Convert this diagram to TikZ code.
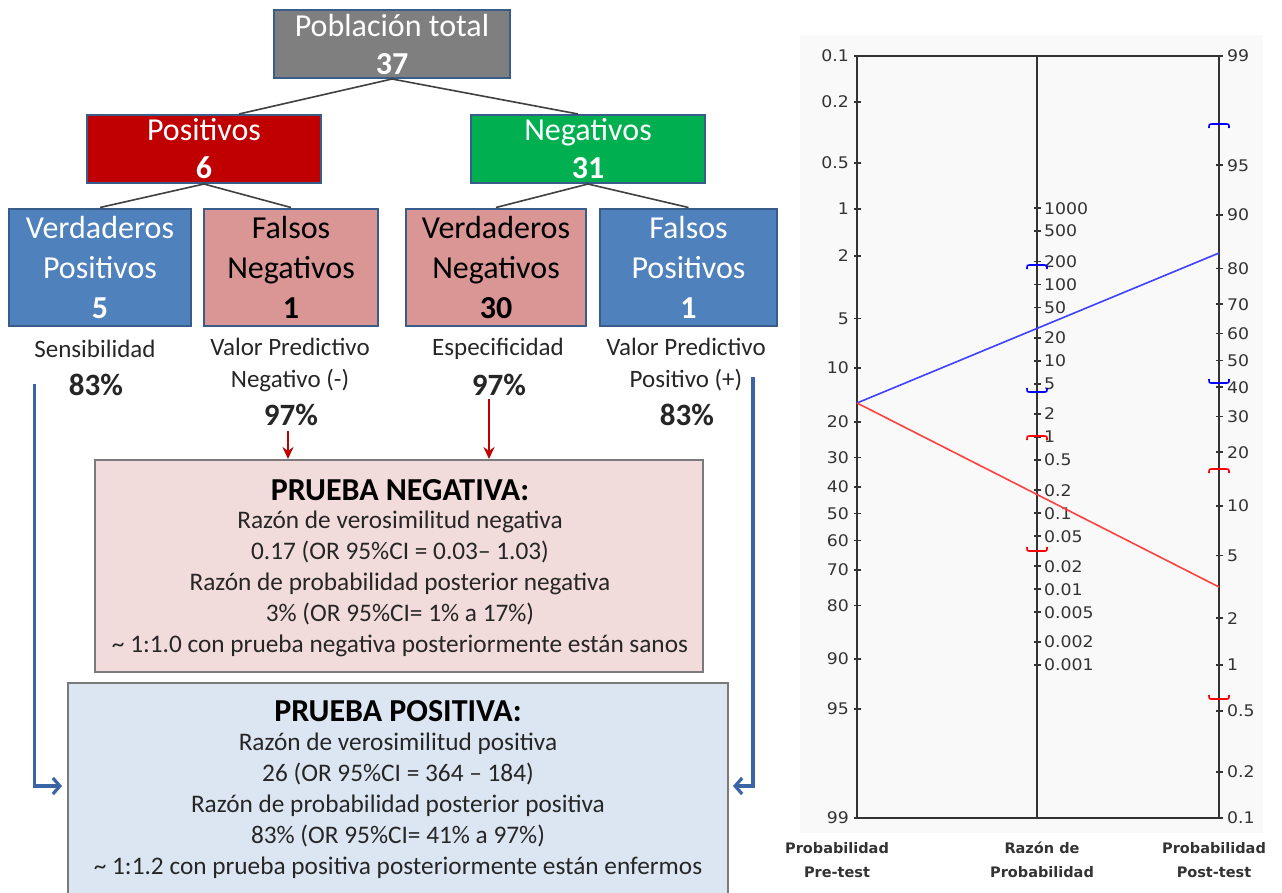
\documentclass[tikz,border=0pt]{standalone}
\usepackage{fontspec}
\setmainfont{Carlito}
\newfontfamily\nomofont[FakeStretch=1.08]{DejaVu Sans}
\newfontfamily\nomobold{DejaVu Sans}
\usetikzlibrary{arrows.meta,calc}
\definecolor{boxgray}{HTML}{7F7F7F}
\definecolor{boxblue}{HTML}{385D8A}
\definecolor{posred}{HTML}{C00000}
\definecolor{neggreen}{HTML}{00B050}
\definecolor{leafblue}{HTML}{4F81BD}
\definecolor{leafpink}{HTML}{D99694}
\definecolor{negfill}{HTML}{F2DCDB}
\definecolor{posfill}{HTML}{DCE6F2}
\definecolor{resborder}{HTML}{7A7A7A}
\definecolor{arrred}{HTML}{C00000}
\definecolor{arrblue}{HTML}{3A64A6}
\definecolor{treegray}{HTML}{404040}
\definecolor{labgray}{HTML}{262626}
\definecolor{axgray}{HTML}{333333}
\definecolor{panel}{HTML}{F8F9F8}
\definecolor{lineblue}{HTML}{4040FF}
\definecolor{linered}{HTML}{FF4040}
\newcommand\ciup[3]{\draw[draw=#3, line width=1.6pt] (#1-10,#2+4) .. controls (#1-10,#2) .. (#1-6,#2) -- (#1+6,#2) .. controls (#1+10,#2) .. (#1+10,#2+4);}
\newcommand\cidown[3]{\draw[draw=#3, line width=1.6pt] (#1-10,#2-4) .. controls (#1-10,#2) .. (#1-6,#2) -- (#1+6,#2) .. controls (#1+10,#2) .. (#1+10,#2-4);}
\begin{document}
\begin{tikzpicture}[x=1pt,y=-1pt,
  treeline/.style={draw=treegray, line width=1.6pt},
  topbox/.style={draw=boxblue, line width=2pt, inner sep=0pt, align=center, text=white, font=\fontsize{32}{38}\selectfont, minimum height=68pt},
  leafbox/.style={draw=boxblue, line width=2pt, inner sep=0pt, align=center, font=\fontsize{32}{40}\selectfont, minimum height=117pt},
  lab/.style={inner sep=0pt, align=center, text=labgray, font=\fontsize{25}{32}\selectfont},
  pct/.style={inner sep=0pt, text=labgray, font=\fontsize{31}{32}\selectfont\bfseries},
  resbox/.style={draw=resborder, line width=2pt, inner sep=0pt},
  restitle/.style={inner sep=0pt, text=black, font=\fontsize{32}{32}\selectfont\bfseries},
  resbody/.style={inner sep=0pt, align=center, text=labgray, font=\fontsize{25.3}{31}\selectfont},
  redarr/.style={draw=arrred, line width=2.2pt, -{Stealth[length=12pt,width=11pt,inset=4pt]}},
  bluearr/.style={draw=arrblue, line width=3.2pt, -{Straight Barb[length=7pt,width=16pt]}},
  axisline/.style={draw=axgray, line width=2.4pt},
  tickmark/.style={draw=axgray, line width=1.8pt},
  ticklab/.style={inner sep=0pt, text=axgray, font=\nomofont\fontsize{16}{16}\selectfont},
  axlab/.style={inner sep=0pt, align=center, text=axgray, font=\nomobold\bfseries\fontsize{14.5}{23.5}\selectfont},
]
\fill[white] (0,0) rectangle (1282,892);
\useasboundingbox (0,0) rectangle (1282,892);

% ---------------- tree ----------------
\node[topbox, fill=boxgray, minimum width=236pt] (tot) at (392,44) {Población total\\\textbf{37}};
\node[topbox, fill=posred, minimum width=234pt] (pos) at (204,149) {Positivos\\\textbf{6}};
\node[topbox, fill=neggreen, minimum width=234pt] (neg) at (588,149) {Negativos\\\textbf{31}};

\node[leafbox, fill=leafblue, text=white, minimum width=182pt] (vp) at (100,267) {Verdaderos\\Positivos\\\textbf{5}};
\node[leafbox, fill=leafpink, text=black, minimum width=174pt] (fn) at (291,267) {Falsos\\Negativos\\\textbf{1}};
\node[leafbox, fill=leafpink, text=black, minimum width=180pt] (vn) at (496,267) {Verdaderos\\Negativos\\\textbf{30}};
\node[leafbox, fill=leafblue, text=white, minimum width=177pt] (fp) at (688.5,267) {Falsos\\Positivos\\\textbf{1}};

\draw[treeline] (tot.south) -- ([xshift=35pt]pos.north);
\draw[treeline] (tot.south) -- ([xshift=-10pt]neg.north);
\draw[treeline] (pos.south) -- (vp.north);
\draw[treeline] (pos.south) -- (fn.north);
\draw[treeline] (neg.south) -- (vn.north);
\draw[treeline] (neg.south) -- (fp.north);

% labels
\node[lab] (sens) at (95,349) {Sensibilidad};
\node[pct] (senspct) at (96,385) {83\%};
\node[lab] (vpn) at (290,365) {Valor Predictivo\\Negativo (-)};
\node[pct] (vpnpct) at (291,415) {97\%};
\node[lab] (esp) at (498,349) {Especificidad};
\node[pct] (esppct) at (499,385) {97\%};
\node[lab] (vpp) at (686,365) {Valor Predictivo\\Positivo (+)};
\node[pct] (vpppct) at (687,415) {83\%};

% result boxes
\node[resbox, fill=negfill, minimum width=608pt, minimum height=212pt] (negbox) at (399,566) {};
\node[restitle] (negt) at (400,490) {PRUEBA NEGATIVA:};
\node[resbody] (negb) at (400,584) {Razón de verosimilitud negativa\\0.17 (OR 95\%CI = 0.03– 1.03)\\Razón de probabilidad posterior negativa\\3\% (OR 95\%CI= 1\% a 17\%)\\\textasciitilde\ 1:1.0 con prueba negativa posteriormente están sanos};

\node[resbox, fill=posfill, minimum width=660pt, minimum height=217pt] (posbox) at (398,791.5) {};
\node[restitle] (post) at (398,711) {PRUEBA POSITIVA:};
\node[resbody] (posb) at (398,806) {Razón de verosimilitud positiva\\26 (OR 95\%CI = 364 – 184)\\Razón de probabilidad posterior positiva\\83\% (OR 95\%CI= 41\% a 97\%)\\\textasciitilde\ 1:1.2 con prueba positiva posteriormente están enfermos};

% arrows
\coordinate (ra1) at (288,431);
\coordinate (ra2) at (489,399);
\draw[redarr] (ra1) -- (ra1 |- negbox.north);
\draw[redarr] (ra2) -- (ra2 |- negbox.north);
\coordinate (bl1) at (34.5,384);
\coordinate (bl1e) at (62,786);
\coordinate (bl2) at (753,377);
\coordinate (bl2e) at (733,786);
\draw[bluearr] (bl1) |- (bl1e);
\draw[bluearr] (bl2) |- (bl2e);

% ---------------- nomogram ----------------
\fill[panel] (800,35) rectangle (1263,833);
\coordinate (tl) at (857,56);
\coordinate (tm) at (1037,56);
\coordinate (tr) at (1219,56);
\coordinate (bl) at (857,818);
\coordinate (bm) at (1037,818);
\coordinate (br) at (1219,818);
\draw[axisline] (tl) -- (tr) -- (br) -- (bl) -- cycle;
\draw[axisline] (tm) -- (bm);

\foreach \v [count=\i] in {0.1,0.2,0.5,1,2,5,10,20,30,40,50,60,70,80,90,95,99} {
  \pgfmathsetmacro\yy{56+66.25*(ln(\v)-ln(100-\v)+6.90675)}
  \draw[tickmark] (854,\yy) -- (861,\yy);
  \node[ticklab, anchor=east] (pl\i) at (849,\yy) {\v};
}
\foreach \v [count=\i] in {99,95,90,80,70,60,50,40,30,20,10,5,2,1,0.5,0.2,0.1} {
  \pgfmathsetmacro\yy{56+66.25*(4.59512-ln(\v)+ln(100-\v))}
  \draw[tickmark] (1216,\yy) -- (1223,\yy);
  \node[ticklab, anchor=west] (ql\i) at (1227,\yy) {\v};
}
\foreach \v [count=\i] in {1000,500,200,100,50,20,10,5,2,1,0.5,0.2,0.1,0.05,0.02,0.01,0.005,0.002,0.001} {
  \pgfmathsetmacro\yy{437-33.125*ln(\v)}
  \draw[tickmark] (1034,\yy) -- (1041,\yy);
  \node[ticklab, anchor=west] (ml\i) at (1044,\yy) {\v};
}

\coordinate (pre) at (857,403);
\coordinate (postpos) at (1219,253);
\coordinate (postneg) at (1219,587);
\draw[draw=lineblue, line width=1.6pt] (pre) -- (postpos);
\draw[draw=linered, line width=1.6pt] (pre) -- (postneg);

\ciup{1037}{265}{blue}
\cidown{1037}{392}{blue}
\ciup{1219}{124}{blue}
\cidown{1219}{383}{blue}
\ciup{1037}{436}{red}
\cidown{1037}{551}{red}
\ciup{1219}{469}{red}
\cidown{1219}{699}{red}

\node[axlab] (lpre) at (837,860) {Probabilidad\\Pre-test};
\node[axlab] (lrp) at (1042,860) {Razón de\\Probabilidad};
\node[axlab] (lpost) at (1214,860) {Probabilidad\\Post-test};
\end{tikzpicture}
\end{document}
